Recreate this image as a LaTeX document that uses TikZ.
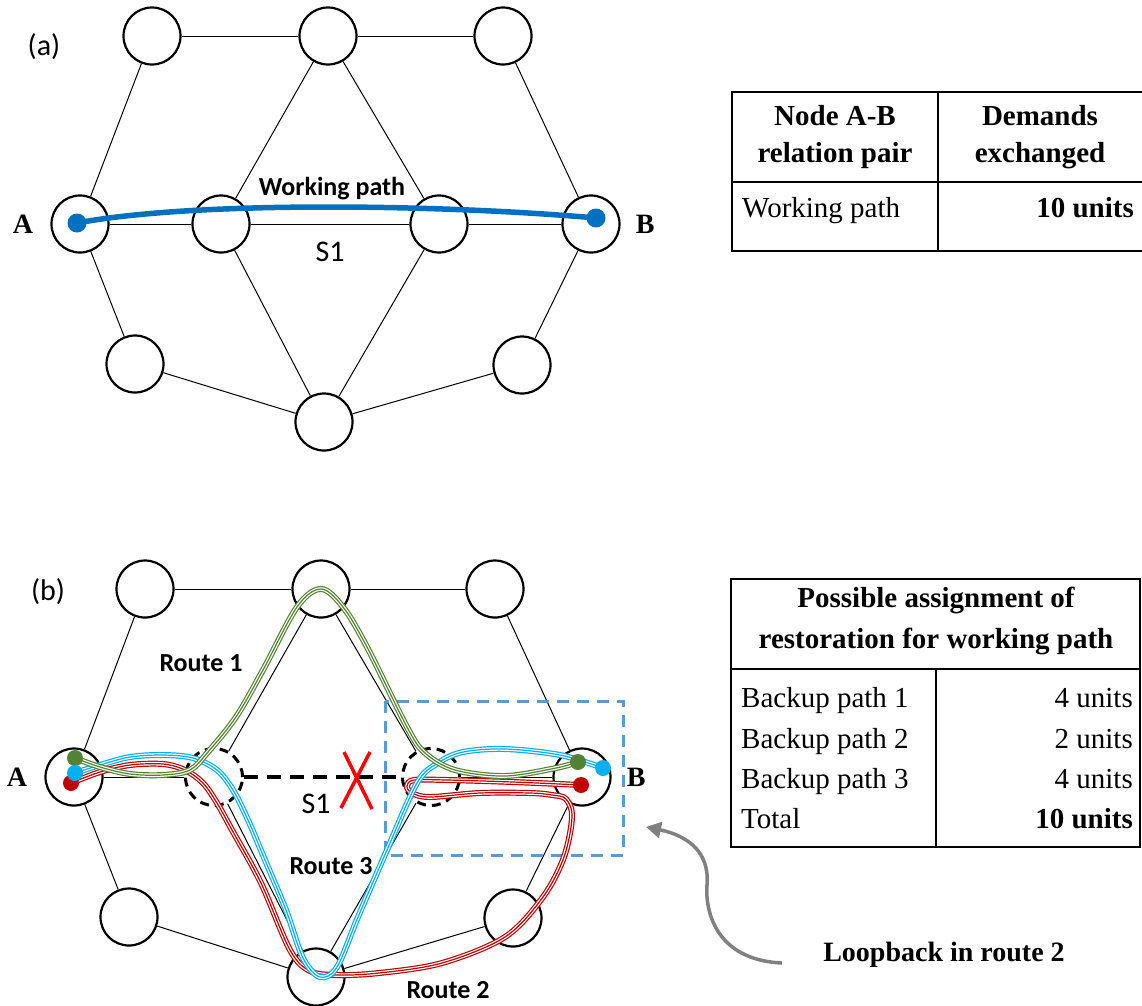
\documentclass[tikz,border=0pt]{standalone}
\usepackage{fontspec}
\setmainfont{Liberation Serif}
\newfontfamily\calfont{Carlito}
\usetikzlibrary{arrows.meta}

\definecolor{wpblue}{RGB}{0,112,192}
\definecolor{rtgreen}{RGB}{84,130,53}
\definecolor{rtcyan}{RGB}{0,176,240}
\definecolor{rtred}{RGB}{192,0,0}
\definecolor{boxblue}{RGB}{91,155,213}
\definecolor{arrgray}{RGB}{128,128,128}

\tikzset{
  nd/.style={circle, draw, line width=2.2pt, minimum size=57pt, inner sep=0pt},
  nddash/.style={nd, line width=3pt, dash pattern=on 9pt off 6pt},
  lnk/.style={line width=1pt},
  route/.style={line width=6pt, draw=#1, line cap=round,
    postaction={draw=white, line width=3.6pt, line cap=round},
    postaction={draw=#1, line width=1.2pt, line cap=round}},
  cell/.style={font=\fontsize{29}{34}\selectfont, inner sep=0pt},
  cellb/.style={font=\bfseries\fontsize{29}{34}\selectfont, inner sep=0pt},
  lbl/.style={font=\calfont\bfseries\fontsize{26}{30}\selectfont, inner sep=0pt},
  tag/.style={font=\calfont\fontsize{30}{34}\selectfont, inner sep=0pt},
  ab/.style={font=\bfseries\fontsize{28}{32}\selectfont, inner sep=0pt},
}

\begin{document}
\begin{tikzpicture}[x=1pt, y=-1pt]
    \useasboundingbox (0,0) rectangle (1142,1005);

    % (a) network with the working path
    \node[tag] (tag-a) at (44,47) {(a)};
    \node[nd] (a-tl) at (152,36) {};
    \node[nd] (a-tm) at (328,36) {};
    \node[nd] (a-tr) at (503,36) {};
    \node[nd, label={[ab, label distance=17pt]left:A}] (a-A) at (80,224) {};
    \node[nd] (a-m1) at (221,224) {};
    \node[nd] (a-m2) at (439,224) {};
    \node[nd, label={[ab, label distance=15pt]right:B}] (a-B) at (591,224) {};
    \node[nd] (a-bl) at (135,364) {};
    \node[nd] (a-br) at (522,365) {};
    \node[nd] (a-bm) at (324,422) {};
    \foreach \u/\v in {tl/tm, tm/tr, tl/A, tm/m1, tm/m2, tr/B, A/m1, m2/B,
                       A/bl, m1/bm, m2/bm, B/br, bl/bm, br/bm}
        \draw[lnk] (a-\u) -- (a-\v);
    \draw[lnk] (a-m1) -- node[tag, font=\calfont\fontsize{30}{34}\selectfont, below=18pt] (s1-a) {S1} (a-m2);

    \coordinate (wA) at (77,223);
    \coordinate (wB) at (596,218);
    \draw[wpblue, line width=5.5pt] (wA) .. controls (200,200) and (450,205) .. (wB);
    \foreach \pt in {(wA), (wB)} \fill[wpblue] \pt circle (9.5);
    \node[lbl] (wp-lbl) at (332,189) {Working path};

    % table (a)
    \draw[line width=1.5pt] (732,92) rectangle (1146,251) (732,182) -- (1146,182) (938,92) -- (938,251);
    \node[cellb, anchor=base] (ta-h1) at (835,125) {Node A-B};
    \node[cellb, anchor=base] (ta-h2) at (835,162) {relation pair};
    \node[cellb, anchor=base] (ta-h3) at (1040,125) {Demands};
    \node[cellb, anchor=base] (ta-h4) at (1040,162) {exchanged};
    \node[cell, anchor=base west] (ta-r1) at (742,217) {Working path};
    \node[cellb, anchor=base east] (ta-v1) at (1134,217) {10 units};

    % (b) network with the restoration routes
    \node[tag] (tag-b) at (48,592) {(b)};
    \node[nd] (b-tl) at (145,589) {};
    \node[nd] (b-tm) at (321,589) {};
    \node[nd] (b-tr) at (495,589) {};
    \node[nd, label={[ab, label distance=17pt]left:A}] (b-A) at (74,777) {};
    \node[nddash] (b-m1) at (214,777) {};
    \node[nddash] (b-m2) at (431,777) {};
    \node[nd, label={[ab, label distance=15pt]right:B}] (b-B) at (582,777) {};
    \node[nd] (b-bl) at (129,917) {};
    \node[nd] (b-br) at (513,918) {};
    \node[nd] (b-bm) at (316,977) {};
    \foreach \u/\v in {tl/tm, tm/tr, tl/A, tm/m1, tm/m2, tr/B, A/m1, m2/B,
                       A/bl, m1/bm, m2/bm, B/br, bl/bm, br/bm}
        \draw[lnk] (b-\u) -- (b-\v);
    \draw[line width=3.2pt, dash pattern=on 14pt off 9pt] (b-m1) -- (b-m2);
    \node[tag] (s1-b) at (316,804) {S1};
    \draw[red, line width=3.5pt] (341,808) -- (370,752) (344,752) -- (372,809);

    \draw[boxblue, line width=3pt, dash pattern=on 12pt off 8pt] (385,701) rectangle (623,855);

    \coordinate (gA) at (75,758);
    \coordinate (cA) at (75,773);
    \coordinate (rA) at (71,783);
    \coordinate (gB) at (578,762);
    \coordinate (cB) at (603,768);
    \coordinate (rB) at (581,785);

    % route 2
    \draw[route=rtred] plot[smooth, tension=0.55] coordinates {(rA) (100,772) (130,765) (163,764)
        (185,770) (203,783) (217,803) (232,830) (261,883) (290,950) (310,971) (337,975) (379,973)
        (442,963) (505,937) (543,897) (564,857) (572,817) (566,799) (552,795) (530,793) (480,793)
        (430,797) (412,793) (407,786) (414,780) (447,780) (513,782) (rB)};
    % route 3
    \draw[route=rtcyan] plot[smooth, tension=0.55] coordinates {(cA) (100,765) (130,757) (163,755)
        (193,758) (217,770) (233,790) (248,820) (265,860) (286,910) (303,958) (320,977) (337,967)
        (358,917) (387,850) (417,783) (438,763) (463,752) (505,749) (560,755) (cB)};
    % route 1
    \draw[route=rtgreen] plot[smooth, tension=0.55] coordinates {(gA) (100,767) (130,774) (163,775)
        (190,770) (208,752) (236,717) (263,670) (297,607) (321,589) (343,607) (367,647) (407,727)
        (425,753) (455,770) (505,776) (556,768) (gB)};

    \fill[rtgreen] (gA) circle (8) (gB) circle (8);
    \fill[rtred] (rA) circle (8) (rB) circle (8);
    \fill[rtcyan] (cA) circle (8) (cB) circle (8);

    \node[lbl] (rt1) at (201,663) {Route 1};
    \node[lbl] (rt3) at (331,866) {Route 3};
    \node[lbl] (rt2) at (448,990) {Route 2};

    % table (b)
    \draw[line width=1.5pt] (731,579) rectangle (1140,847) (731,669) -- (1140,669) (936,669) -- (936,847);
    \node[cellb, anchor=base] (tb-h1) at (936,607) {Possible assignment of};
    \node[cellb, anchor=base] (tb-h2) at (936,648) {restoration for working path};
    \foreach \lab/\val/\y in {Backup path 1/4 units/707, Backup path 2/2 units/748, Backup path 3/4 units/788} {
        \node[cell, anchor=base west] at (741,\y) {\lab};
        \node[cell, anchor=base east] at (1133,\y) {\val};
    }
    \node[cell, anchor=base west] (tb-tot) at (741,828) {Total};
    \node[cellb, anchor=base east] (tb-sum) at (1133,828) {10 units};

    % loopback note
    \coordinate (lp-start) at (782,963);
    \node[ab, font=\bfseries\fontsize{28}{32}\selectfont] (lp-lbl) at (944,955) {Loopback in route 2};
    \draw[arrgray, line width=3.5pt, -{Triangle[length=15pt, width=16pt]}]
        (lp-start) .. controls (715,960) and (705,910) .. (707,885)
        .. controls (710,850) and (685,835) .. (646,827);
\end{tikzpicture}
\end{document}
